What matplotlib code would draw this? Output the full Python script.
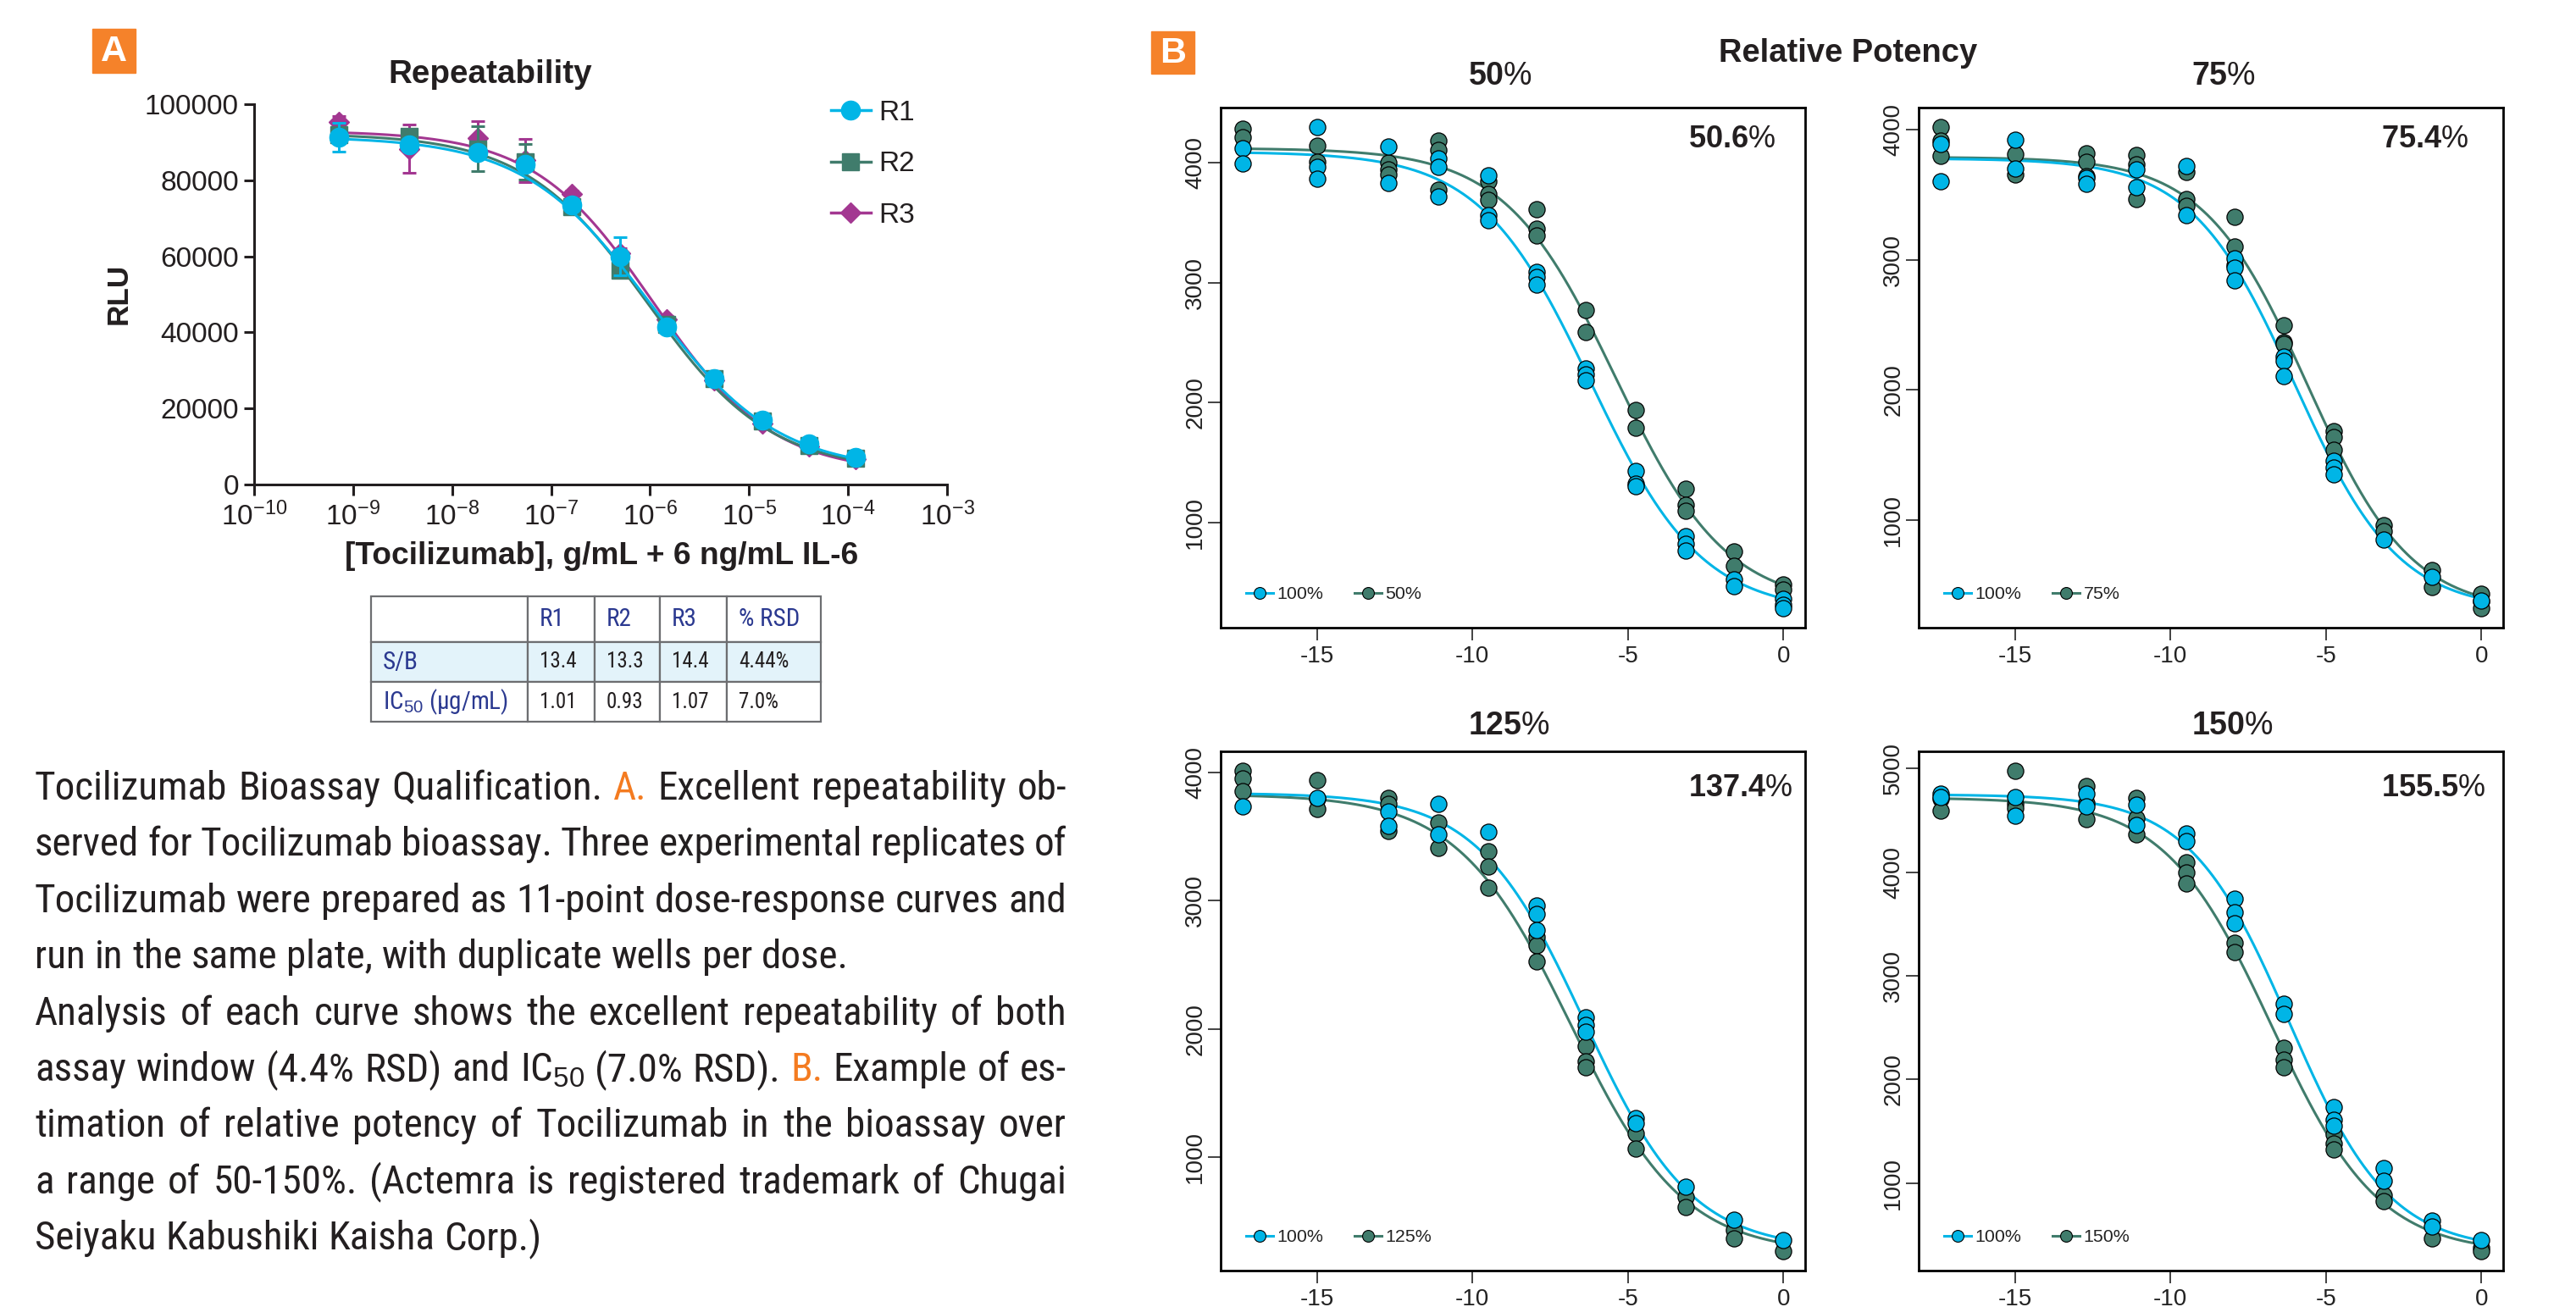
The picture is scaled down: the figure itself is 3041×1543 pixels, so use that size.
import numpy as np
import matplotlib
matplotlib.use("Agg")
import matplotlib.pyplot as plt
from matplotlib.patches import Rectangle
from matplotlib.lines import Line2D
from matplotlib.ticker import MultipleLocator, LogLocator, NullLocator, FormatStrFormatter, LogFormatterMathtext

# ---------------- data: panel A (repeatability) ----------------
dose_a = [7.2e-10, 3.65e-9, 1.81e-8, 5.48e-8, 1.63e-7, 4.94e-7, 1.47e-6, 4.45e-6, 1.35e-5, 4.0e-5, 1.2e-4]
rlu_r1 = [91400, 89400, 87300, 84200, 73400, 60000, 41400, 27800, 17000, 10600, 7200]
rlu_r2 = [92000, 91600, 88300, 84800, 73000, 56400, 42200, 27800, 16600, 10300, 7000]
rlu_r3 = [95300, 88300, 91100, 85200, 76300, 60900, 43400, 27300, 16100, 10000, 6600]
err_r1 = [3800, 1200, 1500, 1200, 800, 5100, 800, 600, 500, 400, 300]
err_r2 = [1500, 1000, 6000, 4700, 1000, 1500, 900, 600, 500, 400, 300]
err_r3 = [1500, 6300, 4400, 5600, 1000, 1200, 900, 700, 900, 600, 400]
# 4PL fit parameters: top, bottom, IC50 (g/mL), hill slope
fit_r1 = [91500, 3500, 1.01e-6, 0.68]
fit_r2 = [92300, 3500, 0.93e-6, 0.70]
fit_r3 = [93000, 3000, 1.07e-6, 0.72]
series_names = ["R1", "R2", "R3"]

# ---------------- data: table ----------------
tbl_cols = ["", "R1", "R2", "R3", "% RSD"]
tbl_rows = ["S/B", "IC$_{50}$ (µg/mL)"]
tbl_vals = [["13.4", "13.3", "14.4", "4.44%"],
            ["1.01", "0.93", "1.07", "7.0%"]]

# ---------------- data: panel B (relative potency) ----------------
x_b = [-17.4, -15.0, -12.69, -11.1, -9.5, -7.95, -6.35, -4.75, -3.15, -1.58, 0.0]

ref_50 = [[4118, 3993], [4298, 3964, 3864], [4136, 3828], [4036, 3964, 3720], [3892, 3562, 3522],
          [3092, 3048, 2984], [2287, 2237, 2187], [1433, 1325, 1303], [883, 822, 765], [524, 470], [363, 312, 284]]
test_50 = [[4280, 4208], [4144, 4007], [4000, 3946, 3899], [4180, 4108, 3774], [3846, 3738, 3688],
           [3609, 3451, 3393], [2772, 2589], [1935, 1792], [1278, 1145, 1099], [758, 639], [481, 438]]

ref_75 = [[3892, 3607], [3925, 3705], [3630, 3587], [3695, 3557], [3721, 3344],
          [3013, 2941, 2843], [2252, 2220, 2105], [1456, 1400, 1351], [849], [564], [380]]
test_75 = [[4023, 3918, 3800], [3816, 3656], [3820, 3751, 3646], [3803, 3734, 3466], [3679, 3466, 3416],
           [3328, 3105, 2960], [2498, 2367, 2351], [1679, 1639, 1538], [957, 915], [613, 482], [433, 374, 318]]

ref_125 = [[3733], [3800], [3699, 3586], [3755, 3518], [3540],
           [2966, 2896, 2773], [2092, 2031, 1982], [1307, 1264], [773], [512], [356]]
test_125 = [[4015, 3954, 3856], [3939, 3798, 3718], [3801, 3755, 3546], [3607, 3411], [3387, 3264, 3101],
            [2718, 2656, 2528], [1868, 1745, 1699], [1184, 1067], [693, 610], [436, 371], [267]]

ref_150 = [[4754, 4727], [4727, 4545], [4754, 4632], [4651, 4454], [4374, 4302],
           [3741, 3616, 3506], [2733, 2630], [1732, 1607, 1550], [1144, 1019], [640, 583], [450]]
test_150 = [[4708, 4594], [4981, 4659, 4621], [4833, 4670, 4511], [4716, 4518, 4367], [4094, 3995, 3893],
            [3317, 3229], [2308, 2187, 2118], [1474, 1379, 1326], [879, 822], [462], [374, 340]]

# 4PL fit parameters in ln-dose units: top, bottom, midpoint, slope
fit_ref_50, fit_test_50 = [4090, 250, -6.2, 0.56], [4120, 300, -5.4, 0.56]
fit_ref_75, fit_test_75 = [3780, 300, -6.0, 0.60], [3790, 290, -5.6, 0.60]
fit_ref_125, fit_test_125 = [3840, 280, -6.4, 0.58], [3830, 250, -6.85, 0.55]
fit_ref_150, fit_test_150 = [4750, 350, -6.18, 0.62], [4720, 320, -6.75, 0.58]

nominal = ["50", "75", "125", "150"]
measured = ["50.6", "75.4", "137.4", "155.5"]

caption_lines = [
    [("Tocilizumab Bioassay Qualification. ", 0), ("A.", 1), (" Excellent repeatability ob-", 0)],
    [("served for Tocilizumab bioassay. Three experimental replicates of", 0)],
    [("Tocilizumab were prepared as 11-point dose-response curves and", 0)],
    [("run in the same plate, with duplicate wells per dose.", 0)],
    [("Analysis of each curve shows the excellent repeatability of both", 0)],
    [("assay window (4.4% RSD) and IC$_{50}$ (7.0% RSD). ", 0), ("B.", 1), (" Example of es-", 0)],
    [("timation of relative potency of Tocilizumab in the bioassay over", 0)],
    [("a range of 50-150%. (Actemra is registered trademark of Chugai", 0)],
    [("Seiyaku Kabushiki Kaisha Corp.)", 0)],
]
caption_justified = [True, True, True, False, True, True, True, True, False]

# ---------------- style ----------------
W, H = 3041, 1543
CYAN = "#00B5E6"
TEAL = "#407C6C"
MAGENTA = "#A33791"
ORANGE = "#F5822A"
DARK = "#231F20"
NAVY = "#2B3990"
NARROW = ["Liberation Sans Narrow", "Roboto Condensed", "Liberation Sans", "DejaVu Sans"]

plt.rcParams["font.family"] = ["Liberation Sans", "DejaVu Sans"]
plt.rcParams["axes.unicode_minus"] = False
plt.rcParams["mathtext.fontset"] = "custom"
plt.rcParams["mathtext.rm"] = "Liberation Sans"
plt.rcParams["mathtext.it"] = "Liberation Sans:italic"
plt.rcParams["mathtext.bf"] = "Liberation Sans:bold"
plt.rcParams["mathtext.sf"] = "Liberation Sans"

fig = plt.figure(figsize=(W / 100, H / 100), dpi=100)
renderer = fig.canvas.get_renderer()


def fbox(l, t, r, b):
    return [l / W, 1 - b / H, (r - l) / W, (b - t) / H]


def text_w(s, **kw):
    t = fig.text(0, 0, s, **kw)
    w = t.get_window_extent(renderer).width
    t.remove()
    return w


def fit_size(s, target, base=30, **kw):
    return base * target / text_w(s, size=base, **kw)


def fpx(x, y):
    return x / W, 1 - y / H


# ---------------- orange panel letters ----------------
for (l, t, r, b, letter) in [(109, 34, 160, 86, "A"), (1359, 37, 1410, 87, "B")]:
    fig.patches.append(Rectangle((l / W, 1 - b / H), (r - l) / W, (b - t) / H,
                                 transform=fig.transFigure, color=ORANGE, zorder=1))
    fig.text(*fpx((l + r) / 2, (t + b) / 2 + 1), letter, color="white", weight="bold",
             size=31, ha="center", va="center")

# ---------------- panel A ----------------
axA = fig.add_axes(fbox(300, 123, 1118, 572))
xs_a = np.logspace(np.log10(dose_a[0]), np.log10(dose_a[-1]), 300)


def fourpl(x, p):
    top, bot, ic50, h = p
    return bot + (top - bot) / (1 + (x / ic50) ** h)


specs = [(rlu_r3, err_r3, fit_r3, MAGENTA, "D", 12),
         (rlu_r2, err_r2, fit_r2, TEAL, "s", 14),
         (rlu_r1, err_r1, fit_r1, CYAN, "o", 16)]
for k, (ys, es, fp, col, mk, ms) in enumerate(specs):
    z = 2 + k
    axA.errorbar(dose_a, ys, yerr=es, fmt="none", ecolor=col, elinewidth=2.2,
                 capsize=6, capthick=2.2, zorder=z)
    axA.plot(xs_a, fourpl(xs_a, fp), color=col, lw=2.2, zorder=z)
    axA.plot(dose_a, ys, ls="none", marker=mk, ms=ms, color=col, mec=col, zorder=z + 0.5)

axA.set_xscale("log")
axA.set_xlim(1e-10, 1e-3)
axA.set_ylim(0, 100000)
axA.xaxis.set_major_locator(LogLocator(base=10, numticks=20))
axA.xaxis.set_minor_locator(NullLocator())
axA.xaxis.set_major_formatter(LogFormatterMathtext())
axA.yaxis.set_major_locator(MultipleLocator(20000))
axA.yaxis.set_major_formatter(FormatStrFormatter("%d"))
for s in ["top", "right"]:
    axA.spines[s].set_visible(False)
for s in ["left", "bottom"]:
    axA.spines[s].set_linewidth(2.2)
    axA.spines[s].set_color(DARK)
axA.tick_params(direction="out", length=9, width=2.2, color=DARK, labelcolor=DARK, labelsize=24)
axA.tick_params(axis="x", pad=6)
axA.tick_params(axis="y", pad=4)

axA.set_xlabel("[Tocilizumab], g/mL + 6 ng/mL IL-6", weight="bold", color=DARK,
               size=fit_size("[Tocilizumab], g/mL + 6 ng/mL IL-6", 605, weight="bold"))
axA.xaxis.set_label_coords((710 - 300) / 818, (572 - 656) / 449)
axA.xaxis.label.set_va("center")
axA.set_ylabel("RLU", weight="bold", color=DARK, size=fit_size("RLU", 72, weight="bold"))
axA.yaxis.set_label_coords((140 - 300) / 818, (572 - 347) / 449)
axA.yaxis.label.set_va("center")
fig.text(*fpx(579, 88), "Repeatability", weight="bold", color=DARK, ha="center", va="center",
         size=fit_size("Repeatability", 240, weight="bold"))

hA = [Line2D([], [], color=CYAN, marker="o", ms=16, lw=2.5),
      Line2D([], [], color=TEAL, marker="s", ms=14, lw=2.5),
      Line2D([], [], color=MAGENTA, marker="D", ms=12, lw=2.5)]
axA.legend(hA, series_names, loc="upper left", bbox_to_anchor=fpx(981, 118),
           bbox_transform=fig.transFigure, frameon=False, fontsize=24, handlelength=1.4,
           handletextpad=0.3, labelspacing=0.88, borderpad=0, borderaxespad=0, labelcolor=DARK)

# ---------------- table ----------------
axT = fig.add_axes(fbox(438, 704, 969, 852))
axT.axis("off")
cell_text = [tbl_cols] + [[r] + v for r, v in zip(tbl_rows, tbl_vals)]
col_w_px = [185, 79, 77, 79, 111]
tab = axT.table(cellText=cell_text, colWidths=[w / sum(col_w_px) for w in col_w_px],
                bbox=[0, 0, 1, 1], cellLoc="left")
tab.auto_set_font_size(False)
for (r, c), cell in tab.get_celld().items():
    cell.set_edgecolor("#6D6E71")
    cell.set_linewidth(1.6)
    cell.set_height(54 if r == 0 else 47)
    cell.PAD = 14 / col_w_px[c]
    txt = cell.get_text()
    txt.set_fontfamily(NARROW)
    if r == 0 or c == 0:
        txt.set_color(NAVY)
        txt.set_fontsize(21)
    else:
        txt.set_color(DARK)
        txt.set_fontsize(18)
    if r == 1:
        cell.set_facecolor("#E3F3FA")

# ---------------- caption (justified, word by word) ----------------
cap_cols = [DARK, "#F47B20"]
base = 30
nat_w = []
for pieces, just in zip(caption_lines, caption_justified):
    if just:
        nat_w.append(text_w("".join(s for s, _ in pieces), size=base, family=NARROW))
cap_size = base * 1225 / max(nat_w)
space_w = (text_w("x x", size=cap_size, family=NARROW) - text_w("xx", size=cap_size, family=NARROW))
line_w = 1218
for i, (pieces, just) in enumerate(zip(caption_lines, caption_justified)):
    y = 944 + i * 66.4
    words = []
    for s, ci in pieces:
        for wd in s.split():
            words.append((wd, ci))
    widths = [text_w(wd, size=cap_size, family=NARROW) for wd, _ in words]
    if just and len(words) > 1:
        gap = (line_w - sum(widths)) / (len(words) - 1)
    else:
        gap = space_w
    x = 41
    for (wd, ci), wdt in zip(words, widths):
        fig.text(*fpx(x, y), wd, color=cap_cols[ci], size=cap_size, family=NARROW,
                 ha="left", va="baseline")
        x += wdt + gap

# ---------------- panel B ----------------
fig.text(*fpx(2182, 63), "Relative Potency", weight="bold", color=DARK, ha="center", va="center",
         size=fit_size("Relative Potency", 305, weight="bold"))


def logistic(x, p):
    top, bot, mid, s = p
    return bot + (top - bot) / (1 + np.exp(s * (x - mid)))


def flatten(xv, groups):
    xx, yy = [], []
    for x, g in zip(xv, groups):
        for v in g:
            xx.append(x)
            yy.append(v)
    return xx, yy


boxes_b = [(1441, 127, 2131, 741), (2265, 127, 2955, 741), (1441, 887, 2131, 1500), (2265, 887, 2955, 1500)]
title_pos = [(1733, 90), (2587, 90), (1733, 857), (2587, 857)]
annot_pos = [(1993, 165), (2811, 165), (1993, 930), (2811, 930)]
refs = [ref_50, ref_75, ref_125, ref_150]
tests = [test_50, test_75, test_125, test_150]
fits_ref = [fit_ref_50, fit_ref_75, fit_ref_125, fit_ref_150]
fits_test = [fit_test_50, fit_test_75, fit_test_125, fit_test_150]

xs_b = np.linspace(x_b[0], x_b[-1], 400)
for k in range(4):
    l, t, r, b = boxes_b[k]
    ax = fig.add_axes(fbox(l, t, r, b))
    ax.plot(xs_b, logistic(xs_b, fits_test[k]), color=TEAL, lw=2.2, zorder=2)
    ax.plot(xs_b, logistic(xs_b, fits_ref[k]), color=CYAN, lw=2.2, zorder=2)
    tx, ty = flatten(x_b, tests[k])
    ax.scatter(tx, ty, s=190, c=TEAL, edgecolors="black", linewidths=0.9, zorder=3)
    rx, ry = flatten(x_b, refs[k])
    ax.scatter(rx, ry, s=190, c=CYAN, edgecolors="black", linewidths=0.9, zorder=4)
    ax.margins(0.04)
    ax.set_xticks([-15, -10, -5, 0])
    ax.yaxis.set_major_locator(MultipleLocator(1000))
    for s in ax.spines.values():
        s.set_linewidth(2.0)
        s.set_color("black")
    ax.tick_params(direction="out", length=10.5, width=1.2, labelsize=20, colors="#222222")
    ax.tick_params(axis="x", pad=4.5)
    ax.tick_params(axis="y", pad=1.5, labelrotation=90)
    for lab in ax.get_yticklabels():
        lab.set_va("center")
    h1 = Line2D([], [], color=CYAN, lw=2.2, marker="o", ms=10, mfc=CYAN, mec="black", mew=0.8)
    h2 = Line2D([], [], color=TEAL, lw=2.2, marker="o", ms=10, mfc=TEAL, mec="black", mew=0.8)
    ax.legend([h1, h2], ["100%", nominal[k] + "%"], loc="lower left", ncol=2, frameon=False,
              fontsize=15.4, handlelength=1.5, handletextpad=0.2, columnspacing=1.73,
              borderaxespad=1.4, borderpad=0, labelcolor="#222222")
    ax_, ay_ = annot_pos[k]
    fig.text(*fpx(ax_, ay_), r"$\mathbf{" + measured[k] + "}$%",
             ha="left", va="center", size=26, color=DARK)
    tx_, ty_ = title_pos[k]
    fig.text(*fpx(tx_, ty_), r"$\mathbf{" + nominal[k] + "}$%",
             ha="left", va="center", size=27, color=DARK)

fig.savefig("out.png", dpi=100, facecolor="white")
